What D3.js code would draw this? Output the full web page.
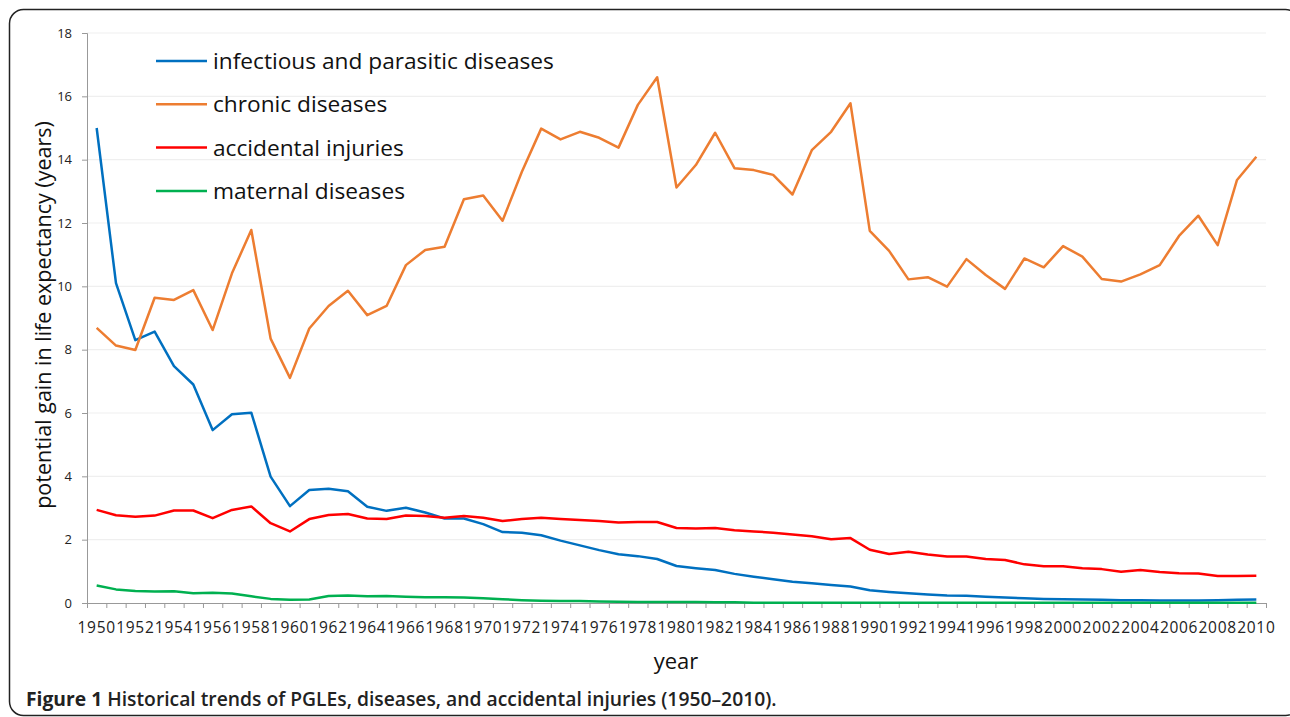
<!DOCTYPE html>
<html>
<head>
<meta charset="utf-8">
<script src="https://cdn.jsdelivr.net/npm/d3@7"></script>
<style>
  body { margin: 0; background: #fff; }
  svg { display: block; font-family: "Open Sans", sans-serif; }
</style>
</head>
<body>
<script>

// years 1950..2010, one value per year
let years = d3.range(1950, 2011)

let infectious = [15.0, 10.1, 8.30, 8.57, 7.48, 6.90, 5.46, 5.96, 6.01, 3.99,
    3.06, 3.57, 3.61, 3.53, 3.04, 2.91, 3.01, 2.86, 2.67, 2.67,
    2.49, 2.24, 2.22, 2.14, 1.97, 1.82, 1.67, 1.54, 1.48, 1.39,
    1.17, 1.10, 1.04, 0.92, 0.83, 0.75, 0.67, 0.62, 0.57, 0.52,
    0.40, 0.35, 0.31, 0.27, 0.24, 0.23, 0.20, 0.17, 0.15, 0.13,
    0.12, 0.11, 0.10, 0.09, 0.09, 0.08, 0.08, 0.08, 0.09, 0.10, 0.11]

let chronic = [8.69, 8.13, 7.99, 9.64, 9.57, 9.88, 8.62, 10.41, 11.78, 8.35,
    7.11, 8.67, 9.38, 9.86, 9.09, 9.38, 10.67, 11.15, 11.25, 12.75,
    12.87, 12.07, 13.62, 14.98, 14.64, 14.88, 14.69, 14.38, 15.73, 16.60,
    13.12, 13.83, 14.85, 13.73, 13.67, 13.52, 12.90, 14.30, 14.88, 15.78,
    11.75, 11.12, 10.22, 10.29, 9.99, 10.86, 10.36, 9.92, 10.88, 10.60,
    11.27, 10.94, 10.23, 10.15, 10.38, 10.67, 11.59, 12.23, 11.30, 13.36, 14.09]

let accidental = [2.94, 2.77, 2.72, 2.76, 2.92, 2.92, 2.68, 2.94, 3.05, 2.52,
    2.26, 2.65, 2.78, 2.81, 2.67, 2.65, 2.76, 2.75, 2.69, 2.75,
    2.69, 2.59, 2.65, 2.69, 2.65, 2.62, 2.59, 2.54, 2.56, 2.56,
    2.37, 2.35, 2.37, 2.30, 2.26, 2.22, 2.16, 2.11, 2.01, 2.05,
    1.68, 1.55, 1.62, 1.53, 1.47, 1.47, 1.39, 1.36, 1.22, 1.16,
    1.16, 1.10, 1.07, 0.99, 1.04, 0.98, 0.94, 0.93, 0.85, 0.85, 0.86]

let maternal = [0.55, 0.43, 0.38, 0.36, 0.37, 0.31, 0.32, 0.30, 0.21, 0.13,
    0.10, 0.11, 0.22, 0.24, 0.21, 0.22, 0.20, 0.18, 0.18, 0.17,
    0.15, 0.12, 0.09, 0.07, 0.06, 0.06, 0.05, 0.04, 0.03, 0.03,
    0.03, 0.03, 0.02, 0.02, 0.01, 0.01, 0.01, 0.01, 0.01, 0.01,
    0.01, 0.01, 0.01, 0.01, 0.01, 0.01, 0.01, 0.01, 0.01, 0.01,
    0.01, 0.01, 0.01, 0.01, 0.01, 0.01, 0.01, 0.01, 0.01, 0.01, 0.01]

let seriesNames = ["infectious and parasitic diseases", "chronic diseases", "accidental injuries", "maternal diseases"]
let seriesColors = ["#0070C0", "#ED7D31", "#FF0000", "#00B050"]
let yTicks = [0, 2, 4, 6, 8, 10, 12, 14, 16, 18]

let allSeries = [infectious, chronic, accidental, maternal]

let width = 1290
let height = 717
let plotLeft = 87, plotRight = 1266, plotTop = 33, plotBottom = 603

let svg = d3.select("body")
    .append("svg")
    .attr("width", width)
    .attr("height", height)

// frame
svg.append("rect")
    .attr("x", 9.5)
    .attr("y", 9.5)
    .attr("width", 1290)
    .attr("height", 706)
    .attr("rx", 14)
    .attr("fill", "none")
    .attr("stroke", "#222")
    .attr("stroke-width", 1.5)

let xScale = d3.scaleBand()
    .domain(years)
    .range([plotLeft, plotRight])
    .padding(0)

let yScale = d3.scaleLinear()
    .domain([0, 18])
    .range([plotBottom, plotTop])

// gridlines
svg.append("g")
    .selectAll("line")
    .data(yTicks.filter(d => d > 0))
    .enter()
    .append("line")
    .attr("x1", plotLeft)
    .attr("x2", plotRight)
    .attr("y1", d => yScale(d))
    .attr("y2", d => yScale(d))
    .attr("stroke", "#efefef")
    .attr("stroke-width", 1.2)

// y axis
let yAxis = d3.axisLeft(yScale).tickValues(yTicks).tickSize(5).tickPadding(10)
let yg = svg.append("g")
    .attr("transform", "translate(" + plotLeft + ",0)")
    .call(yAxis)
yg.select(".domain").attr("stroke", "#999")
yg.selectAll(".tick line").attr("stroke", "#999")
yg.selectAll("text").attr("font-size", 13).attr("fill", "#222").attr("font-family", "Open Sans")

// x axis: tick marks between categories
let edgeScale = d3.scaleLinear().domain([0, years.length]).range([plotLeft, plotRight])
let xTickAxis = d3.axisBottom(edgeScale)
    .tickValues(d3.range(years.length + 1))
    .tickSize(5)
    .tickFormat("")
let xg = svg.append("g")
    .attr("transform", "translate(0," + plotBottom + ")")
    .call(xTickAxis)
xg.select(".domain").attr("stroke", "#999")
xg.selectAll(".tick line").attr("stroke", "#999")

// x axis labels, every other year
let xLabelAxis = d3.axisBottom(xScale)
    .tickValues(years.filter(d => d % 2 == 0))
    .tickSize(0)
    .tickPadding(19)
let xl = svg.append("g")
    .attr("transform", "translate(0," + plotBottom + ")")
    .call(xLabelAxis)
xl.select(".domain").remove()
xl.selectAll("text")
    .attr("font-size", 15.5)
    .attr("letter-spacing", 0.7)
    .attr("fill", "#222")
    .attr("font-family", "Open Sans")

// lines
let line = d3.line()
    .x((d, i) => xScale(years[i]) + xScale.bandwidth() / 2)
    .y(d => yScale(d))

svg.append("g")
    .selectAll("path")
    .data(allSeries)
    .enter()
    .append("path")
    .attr("d", d => line(d))
    .attr("fill", "none")
    .attr("stroke", (d, i) => seriesColors[i])
    .attr("stroke-width", 2.5)
    .attr("stroke-linejoin", "round")

// legend
let legend = svg.append("g")
legend.selectAll("line")
    .data(seriesNames)
    .enter()
    .append("line")
    .attr("x1", 156)
    .attr("x2", 207)
    .attr("y1", (d, i) => 61 + i * 43.3)
    .attr("y2", (d, i) => 61 + i * 43.3)
    .attr("stroke", (d, i) => seriesColors[i])
    .attr("stroke-width", 2.5)
legend.selectAll("text")
    .data(seriesNames)
    .enter()
    .append("text")
    .attr("x", 213)
    .attr("y", (d, i) => 61 + i * 43.3)
    .attr("dy", "0.35em")
    .attr("font-size", 22.7)
    .attr("fill", "#111")
    .text(d => d)

// y axis label
svg.append("text")
    .attr("x", -315)
    .attr("y", 51)
    .attr("transform", "rotate(-90)")
    .attr("text-anchor", "middle")
    .attr("font-size", 21.5)
    .attr("fill", "#111")
    .text("potential gain in life expectancy (years)")

// x axis label
svg.append("text")
    .attr("x", 676)
    .attr("y", 669)
    .attr("text-anchor", "middle")
    .attr("font-size", 22)
    .attr("fill", "#111")
    .text("year")

// caption
let caption = svg.append("text")
    .attr("x", 26)
    .attr("y", 706)
    .attr("font-size", 19.3)
    .attr("fill", "#222")
caption.append("tspan").attr("font-weight", 700).text("Figure 1 ")
caption.append("tspan").attr("font-weight", 600).text("Historical trends of PGLEs, diseases, and accidental injuries (1950–2010).")

</script>
</body>
</html>
